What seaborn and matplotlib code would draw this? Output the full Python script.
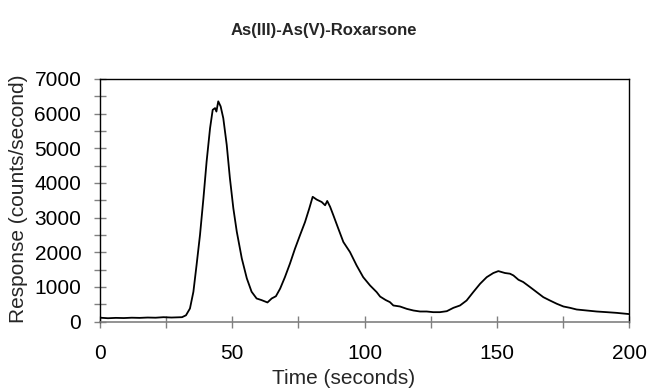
import matplotlib
matplotlib.use("Agg")
import matplotlib.pyplot as plt
import matplotlib.ticker as mtick
import seaborn as sns
import pandas as pd

# Values
time_s = [0, 3, 6, 9, 12, 15, 18, 21, 24, 27, 29, 31, 32.5, 34, 35.3, 36.5, 37.8,
          39.1, 40.3, 41.6, 42.6, 43.5, 44.0, 44.7, 45.6, 46.6, 47.9, 49.1, 50.4,
          51.7, 53.6, 55.5, 57.3, 59.2, 61.1, 63.3, 64.9, 66.5, 68.1, 69.9, 71.8,
          73.7, 75.6, 77.5, 79.1, 80.4, 81.9, 83.8, 85.1, 85.9, 87, 88.2, 90.1,
          92, 94.5, 97, 99.5, 102.1, 104.6, 105.9, 108, 109.6, 110.9, 113.4, 116,
          118.5, 121, 123.5, 126, 128.5, 131.1, 133.6, 136.1, 138.6, 141.1, 143.7,
          146.2, 148.7, 150.6, 153.1, 155, 156.3, 158.2, 160, 162.6, 165.1, 167.6,
          170.1, 172.7, 175.2, 177.7, 180.2, 184, 187.8, 191.6, 195.3, 200]
response = [110, 95, 105, 100, 110, 105, 115, 110, 125, 115, 120, 125, 180, 376, 858,
            1630, 2500, 3560, 4620, 5580, 6110, 6160, 6060, 6355, 6210, 5870, 5100,
            4140, 3270, 2595, 1820, 1245, 860, 665, 617, 550, 665, 730, 950, 1280,
            1670, 2100, 2490, 2870, 3260, 3600, 3520, 3450, 3355, 3480, 3310, 3070,
            2680, 2295, 2005, 1620, 1280, 1040, 848, 720, 620, 560, 463, 434, 365,
            318, 289, 289, 270, 270, 298, 395, 463, 607, 848, 1090, 1280, 1400, 1455,
            1400, 1380, 1330, 1205, 1140, 993, 848, 703, 607, 512, 434, 395, 347,
            318, 289, 270, 250, 215]

df = pd.DataFrame({"Time": time_s, "Response": response})

sns.set_style("white")
plt.rcParams["font.family"] = ["Liberation Sans", "DejaVu Sans"]

fig = plt.figure(figsize=(6.47, 3.92), dpi=100)
ax = fig.add_axes([0.1546, 0.1798, 0.8176, 0.6187])

sns.lineplot(data=df, x="Time", y="Response", color="black", linewidth=1.3, ax=ax)

ax.set_xlim(0, 200)
ax.set_ylim(0, 7000)
ax.xaxis.set_major_locator(mtick.MultipleLocator(50))
ax.xaxis.set_minor_locator(mtick.MultipleLocator(25))
ax.yaxis.set_major_locator(mtick.MultipleLocator(1000))
ax.yaxis.set_minor_locator(mtick.MultipleLocator(500))

# Frame: black box, grey x axis, grey ticks crossing the axes
for side in ["top", "right", "left"]:
    ax.spines[side].set_color("black")
    ax.spines[side].set_linewidth(1.0)
ax.spines["bottom"].set_color("#808080")
ax.spines["bottom"].set_linewidth(1.2)
ax.tick_params(which="both", direction="inout", length=9, width=1, color="#808080",
               labelsize=15, labelcolor="black")
ax.tick_params(axis="y", which="both", left=True, pad=9)
ax.tick_params(axis="x", which="both", bottom=True, pad=12)

ax.set_xlabel("Time (seconds)", fontsize=15)
ax.set_ylabel("Response (counts/second)", fontsize=15)
ax.xaxis.set_label_coords(0.461, -0.196)
ax.yaxis.set_label_coords(-0.136, 0.505)

fig.text(0.5, 0.923, "As(III)-As(V)-Roxarsone", fontsize=12, fontweight="bold",
         ha="center", va="center")

fig.savefig("out.png", dpi=100)
